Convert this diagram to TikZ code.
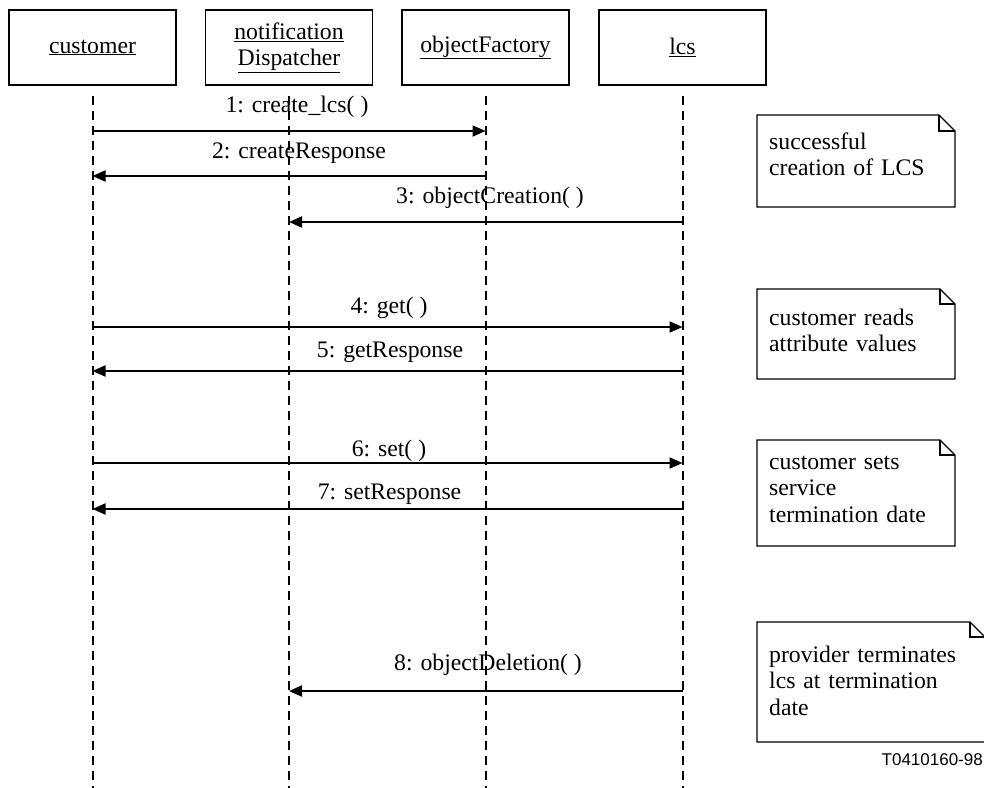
\documentclass[tikz,border=0pt]{standalone}
\usepackage{fontspec}
\setmainfont{Liberation Serif}
\newfontfamily\figtagfont{Liberation Sans}
\usetikzlibrary{arrows.meta}

\tikzset{
  obj/.style={draw, line width=1.2pt, minimum width=167pt, minimum height=75pt,
              inner sep=0pt, align=center},
  lifeline/.style={line width=2pt, dash pattern=on 9pt off 6pt},
  msg/.style={line width=2pt, -{Triangle[length=13pt,width=11pt]}},
  msglabel/.style={anchor=base, inner sep=0pt},
  notetext/.style={anchor=base west, inner sep=0pt, text width=210pt, align=left},
  noteline/.style={line width=1.3pt, line join=miter},
}

% note with a folded top-right corner: x1, y1, x2, y2, fold
\newcommand{\dognote}[5]{%
  \draw[noteline] (#1,#2) -- (#3-#5,#2) -- (#3,#2+#5) -- (#3,#4) -- (#1,#4) -- cycle;
  \draw[noteline] (#3-#5,#2) -- (#3-#5,#2+#5) -- (#3,#2+#5);
}

\begin{document}
\begin{tikzpicture}[x=1pt, y=-1pt,
  every node/.style={font=\fontsize{23.7}{26.5}\selectfont}]
\useasboundingbox (0,0) rectangle (984,787);

% objects
\node[obj] (cust) at (92.5,47.5) {\underline{customer}};
\node[obj] (disp) at (289,47.5) {\underline{notification}\\\underline{Dispatcher}};
\node[obj] (fact) at (485.5,47.5) {\underline{objectFactory}};
\node[obj] (lcs)  at (682.5,47.5) {\underline{lcs}};

% lifelines
\coordinate (top) at (0,96);
\coordinate (bot) at (0,790);
\foreach \o in {cust,disp,fact,lcs}
  \draw[lifeline] (\o |- top) -- (\o |- bot);

% message rows
\coordinate (m1) at (0,131);
\coordinate (m2) at (0,176);
\coordinate (m3) at (0,222);
\coordinate (m4) at (0,327);
\coordinate (m5) at (0,371);
\coordinate (m6) at (0,463);
\coordinate (m7) at (0,509);
\coordinate (m8) at (0,691);

\draw[msg] (cust |- m1) -- (fact |- m1);
\draw[msg] (fact |- m2) -- (cust |- m2);
\draw[msg] (lcs  |- m3) -- (disp |- m3);
\draw[msg] (cust |- m4) -- (lcs  |- m4);
\draw[msg] (lcs  |- m5) -- (cust |- m5);
\draw[msg] (cust |- m6) -- (lcs  |- m6);
\draw[msg] (lcs  |- m7) -- (cust |- m7);
\draw[msg] (lcs  |- m8) -- (disp |- m8);

\node[msglabel] (l1) at (297,112.5) {1: create\_lcs( )};
\node[msglabel] (l2) at (299,158) {2: createResponse};
\node[msglabel] (l3) at (490,203) {3: objectCreation( )};
\node[msglabel] (l4) at (389,313) {4: get( )};
\node[msglabel] (l5) at (390,357) {5: getResponse};
\node[msglabel] (l6) at (389,456) {6: set( )};
\node[msglabel] (l7) at (389.5,499) {7: setResponse};
\node[msglabel] (l8) at (488,670.5) {8: objectDeletion( )};

% notes
\dognote{757}{115}{955}{207}{16}
\node[notetext] (n1) at (769,149) {successful\\creation of LCS};
\dognote{757}{289}{955}{379}{15}
\node[notetext] (n2) at (769,325) {customer reads\\attribute values};
\dognote{757}{440}{955}{546}{15}
\node[notetext] (n3) at (769,469) {customer sets\\service\\termination date};
\dognote{757}{622}{985}{742}{15}
\node[notetext] (n4) at (769,662) {provider terminates\\lcs at termination\\date};

% figure tag
\node[anchor=base east, inner sep=0pt, font=\figtagfont\fontsize{17}{20}\selectfont]
  (tag) at (983,765) {T0410160-98};
\end{tikzpicture}
\end{document}
